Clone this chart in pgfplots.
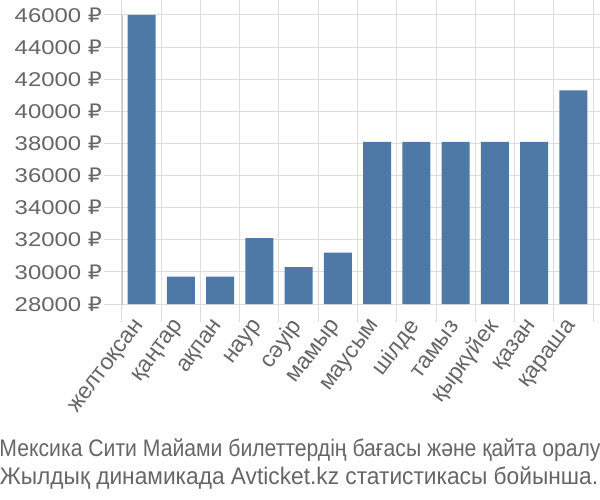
\documentclass[border=0pt]{standalone}
\usepackage{fontspec}
\setmainfont{Liberation Sans}
\newfontfamily\tickfont[FakeStretch=1.2]{Liberation Sans}
\newfontfamily\rub[FakeStretch=1.1]{DejaVu Sans}
\newfontfamily\capfont[FakeStretch=0.885]{Liberation Sans}
\newfontfamily\capfontb[FakeStretch=0.95]{Liberation Sans}
\newcommand{\R}{{\rub ₽}}
\usepackage{pgfplots}
\pgfplotsset{compat=1.18}
\definecolor{barblue}{HTML}{4E79A7}
\definecolor{gridgray}{HTML}{DDDDDD}
\definecolor{axgray}{HTML}{AAAAAA}
\definecolor{txtgray}{HTML}{666666}
\begin{document}
\begin{tikzpicture}
\useasboundingbox (-122bp,-196bp) rectangle (478bp,304bp);
\begin{axis}[
  at={(0,0)}, anchor=south west, scale only axis,
  width=471bp, height=289bp,
  xmin=0.5, xmax=12.5, ymin=28000, ymax=46000,
  scaled ticks=false,
  ytick={28000,30000,...,46000},
  yticklabels={28000 \R,30000 \R,32000 \R,34000 \R,36000 \R,38000 \R,40000 \R,42000 \R,44000 \R,46000 \R},
  xtick={1,...,12},
  xticklabels={желтоқсан,қаңтар,ақпан,наур,сәуір,мамыр,маусым,шілде,тамыз,қыркүйек,қазан,қараша},
  minor xtick={0.5,1.5,...,12.5},
  xminorgrids=true, ymajorgrids=true,
  grid style={gridgray, line width=1bp},
  minor grid style={gridgray, line width=1bp},
  tick align=outside,
  major tick length=18bp, minor tick length=18bp,
  major x tick style={draw=none},
  major y tick style={gridgray, line width=1bp},
  minor x tick style={gridgray, line width=1bp},
  axis line style={gridgray, line width=1bp},
  yticklabel style={font=\tickfont\fontsize{20}{20}\selectfont, text=txtgray, inner sep=2bp},
  xticklabel style={font=\fontsize{23}{23}\selectfont, text=txtgray, rotate=53, anchor=east, inner sep=1bp},
  ybar, bar width=28bp,
]
\addplot[fill=barblue, draw=none] coordinates {
(1,46000) (2,29700) (3,29700) (4,32100) (5,30300) (6,31200)
(7,38100) (8,38100) (9,38100) (10,38100) (11,38100) (12,41300)};
\draw[axgray, line width=1.5bp] (axis cs:0.5,46000) -- (axis cs:0.5,28000) -- ++(0,-18bp);
\end{axis}
\node[anchor=base, text=txtgray, font=\capfont\fontsize{24}{24}\selectfont] at (178bp,-152bp) {Мексика Сити Майами билеттердің бағасы және қайта оралу};
\node[anchor=base, text=txtgray, font=\capfontb\fontsize{24}{24}\selectfont] at (177bp,-180bp) {Жылдық динамикада Avticket.kz статистикасы бойынша.};
\end{tikzpicture}
\end{document}
